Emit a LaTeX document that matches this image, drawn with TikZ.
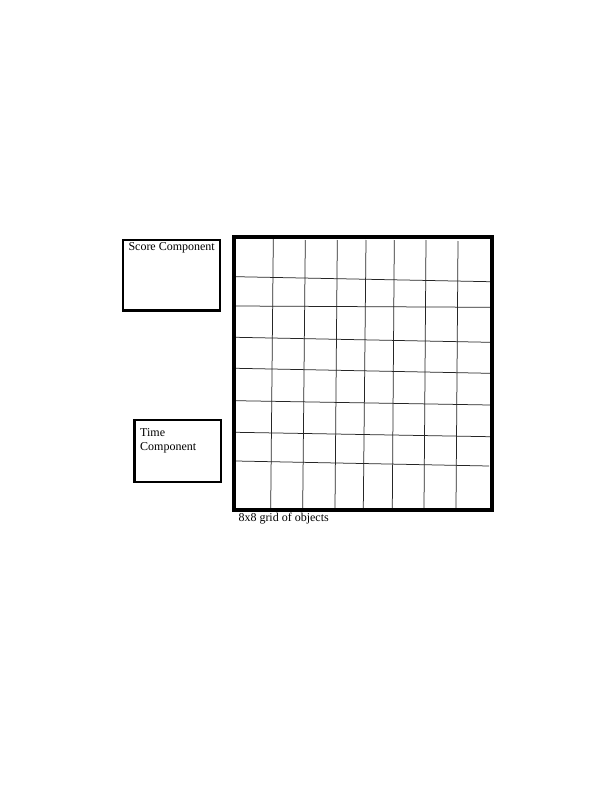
\documentclass[tikz,border=0pt]{standalone}
\usepackage{fontspec}
\setmainfont{Liberation Serif}
\begin{document}
\begin{tikzpicture}[x=1pt,y=-1pt,
  panel/.style={draw=black,line width=2.6pt},
  gridframe/.style={draw=black,line width=4pt},
  gridline/.style={draw=black!85,line width=0.75pt},
  lbl/.style={inner sep=0pt,font=\fontsize{12}{14.2}\selectfont,align=left}]
\useasboundingbox (0,0) rectangle (612,792);
\fill[white] (0,0) rectangle (612,792);
% side panels
\draw[panel] (123,240) rectangle (220,310.5);
\node[lbl,anchor=base west] (score) at (128.3,250) {Score Component};
\draw[panel] (134.5,420) rectangle (221,482);
\node[lbl,anchor=base west] (time) at (140,450.5) {Time\\Component};
% grid verticals
\draw[gridline] (273.3,239) -- (270.7,508);
\draw[gridline] (305.3,240) -- (302.7,508);
\draw[gridline] (337.3,240) -- (335,508);
\draw[gridline] (366,240) -- (363.3,508);
\draw[gridline] (394.3,240) -- (392.3,508);
\draw[gridline] (426,240) -- (424,508);
\draw[gridline] (458,241) -- (456,508);
% grid horizontals
\draw[gridline] (236,276.7) -- (490,281.7);
\draw[gridline] (236,306) -- (490,307.3);
\draw[gridline] (236,337.3) -- (490,342.3);
\draw[gridline] (236,368.3) -- (490,373.3);
\draw[gridline] (236,400.7) -- (490,405);
\draw[gridline] (236,432.3) -- (490,436.7);
\draw[gridline] (236,461) -- (489,466);
% frame
\draw[gridframe] (233.7,236.8) rectangle (492.2,509.5);
\node[lbl,anchor=base west] (caption) at (238.3,521) {8x8 grid of objects};
\end{tikzpicture}
\end{document}
